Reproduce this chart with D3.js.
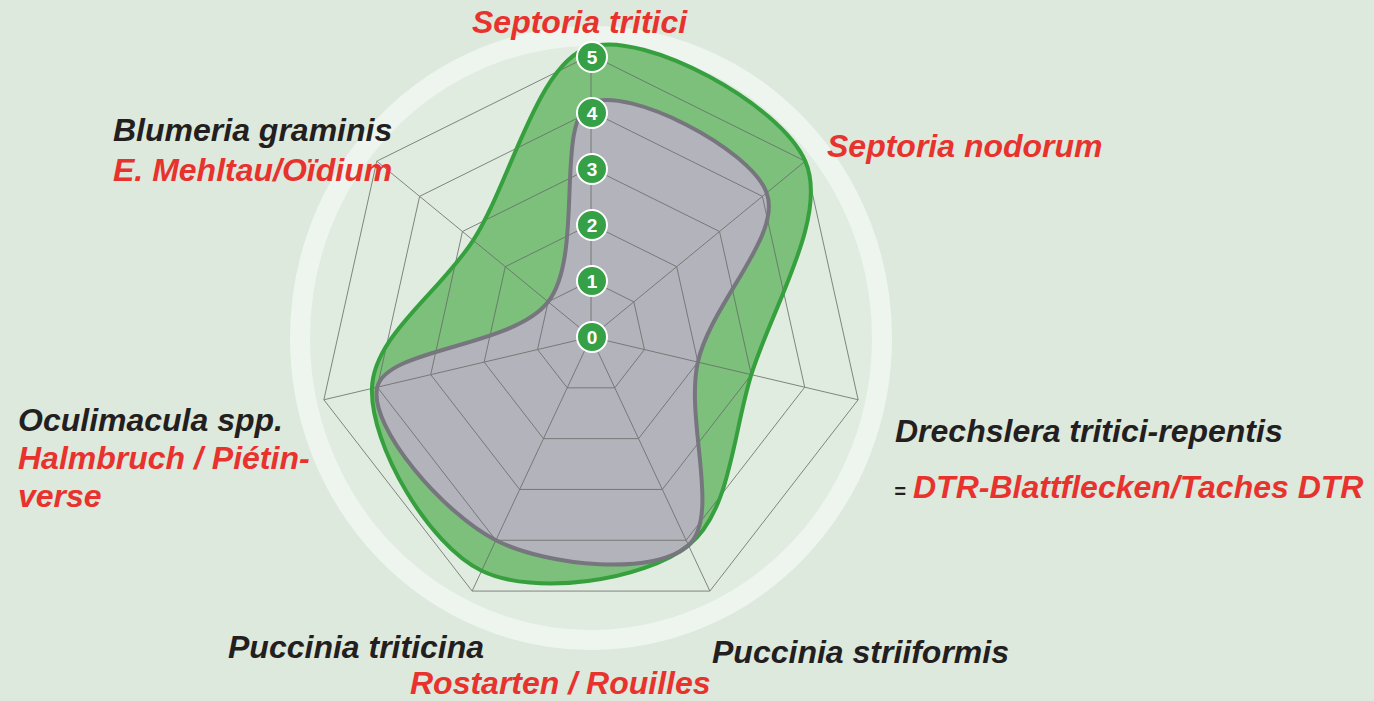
<!DOCTYPE html>
<html>
<head>
<meta charset="utf-8">
<script src="https://cdn.jsdelivr.net/npm/d3@7"></script>
<style>
  body { margin: 0; background: #dde9dc; }
  svg { display: block; }
  text { font-family: "Liberation Sans", Arial, sans-serif; font-weight: bold; font-style: italic; }
</style>
</head>
<body>
<svg width="1374" height="701"></svg>
<script>
// data
var axes = ["Septoria tritici", "Septoria nodorum", "Drechslera tritici-repentis",
  "Puccinia striiformis", "Puccinia triticina", "Oculimacula spp.", "Blumeria graminis"];
var greenValues = [5.15, 5.0, 3.0, 4.1, 4.6, 4.1, 2.75];
var greyValues = [4.15, 4.1, 2.0, 4.1, 4.0, 4.0, 1.0];
var ticks = [0, 1, 2, 3, 4, 5];

var labels = [
  { lines: [{ t: "Septoria tritici", c: "red" }], x: 472, y: 33 },
  { lines: [{ t: "Septoria nodorum", c: "red" }], x: 827, y: 157 },
  { lines: [{ t: "Drechslera tritici-repentis", c: "black" }], x: 895, y: 442 },
  { lines: [{ t: "Puccinia striiformis", c: "black" }], x: 712, y: 663 },
  { lines: [{ t: "Puccinia triticina", c: "black" }], x: 228, y: 658 },
  { lines: [{ t: "Oculimacula spp.", c: "black" }, { t: "Halmbruch / Piétin-", c: "red" }, { t: "verse", c: "red" }], x: 18, y: 431, gap: 38 },
  { lines: [{ t: "Blumeria graminis", c: "black" }, { t: "E. Mehltau/Oïdium", c: "red" }], x: 113, y: 141, gap: 40 }
];

var svg = d3.select("svg");
var cx = 591, cy = 337;
var k = 282 / 274; // vertical stretch of the original

var rScale = d3.scaleLinear().domain([0, 5]).range([0, 274]);
var angle = d3.scaleLinear().domain([0, axes.length]).range([0, 2 * Math.PI]);

function pt(v, i) {
  var a = angle(i);
  return [cx + rScale(v) * Math.sin(a), cy - rScale(v) * Math.cos(a) * k];
}

var colors = { red: "#e8322e", black: "#231f20" };

// background disc + light ring
svg.append("ellipse")
  .attr("cx", cx).attr("cy", cy + 1)
  .attr("rx", 291).attr("ry", 302)
  .attr("fill", "#e1ece0")
  .attr("stroke", "#eef5ee")
  .attr("stroke-width", 20);

var line = d3.line()
  .x(d => d[0]).y(d => d[1])
  .curve(d3.curveCatmullRomClosed.alpha(0.5));

var series = [
  { values: greenValues, fill: "#7cc07c", stroke: "#36a03e" },
  { values: greyValues, fill: "#b3b4bb", stroke: "#77767e" }
];

// fills
svg.selectAll(".area")
  .data(series)
  .enter().append("path")
    .attr("class", "area")
    .attr("d", d => line(d.values.map(pt)))
    .attr("fill", d => d.fill);

// grid
var grid = svg.append("g").attr("stroke", "#676b68").attr("stroke-width", 1).attr("fill", "none").attr("opacity", 0.8);
ticks.slice(1).forEach(t => {
  grid.append("path")
    .attr("d", d3.line()(axes.map((a, i) => pt(t, i))) + "Z");
});
axes.forEach((a, i) => {
  var p = pt(5, i);
  grid.append("line")
    .attr("x1", cx).attr("y1", cy)
    .attr("x2", p[0]).attr("y2", p[1]);
});

// outlines
svg.selectAll(".outline")
  .data(series)
  .enter().append("path")
    .attr("class", "outline")
    .attr("d", d => line(d.values.map(pt)))
    .attr("fill", "none")
    .attr("stroke", d => d.stroke)
    .attr("stroke-width", 4);

// tick badges
var badge = svg.selectAll(".badge")
  .data(ticks)
  .enter().append("g")
    .attr("class", "badge")
    .attr("transform", d => `translate(${cx + 1}, ${cy - d * 56})`);

badge.append("circle")
  .attr("r", 15)
  .attr("fill", "#36a046")
  .attr("stroke", "#ffffff")
  .attr("stroke-width", 2);

badge.append("text")
  .attr("text-anchor", "middle")
  .attr("dy", "0.36em")
  .attr("fill", "#ffffff")
  .style("font-style", "normal")
  .style("font-size", "19px")
  .text(d => d);

// axis labels
labels.forEach(l => {
  l.lines.forEach((ln, j) => {
    svg.append("text")
      .attr("x", l.x)
      .attr("y", l.y + j * (l.gap || 0))
      .attr("fill", colors[ln.c])
      .style("font-size", "32px")
      .text(ln.t);
  });
});

// "= DTR..." line
svg.append("text")
  .attr("x", 894).attr("y", 498)
  .attr("fill", colors.black)
  .style("font-size", "20px")
  .text("=");
svg.append("text")
  .attr("x", 913).attr("y", 498)
  .attr("fill", colors.red)
  .style("font-size", "32px")
  .text("DTR-Blattflecken/Taches DTR");

svg.append("text")
  .attr("x", 410).attr("y", 694)
  .attr("fill", colors.red)
  .style("font-size", "32px")
  .text("Rostarten / Rouilles");
</script>
</body>
</html>
